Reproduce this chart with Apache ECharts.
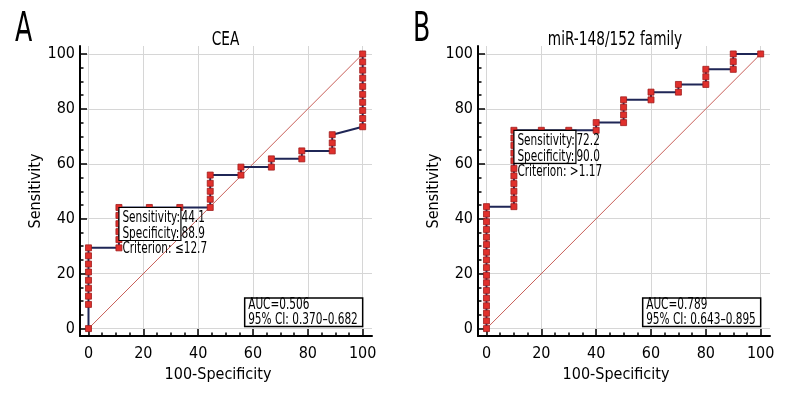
<!DOCTYPE html>
<html><head><meta charset="utf-8">
<script src="https://cdn.jsdelivr.net/npm/echarts@6/dist/echarts.min.js"></script>
<style>html,body{margin:0;padding:0;background:#fff}#c{width:800px;height:400px}</style>
</head><body><div id="c"></div>
<script>
const FONT = '"DejaVu Sans Condensed","DejaVu Sans",sans-serif';

// tick values
const majorTicks = [0, 20, 40, 60, 80, 100];
const minorTicks = [5, 10, 15, 25, 30, 35, 45, 50, 55, 65, 70, 75, 85, 90, 95];

// Panel A: CEA ROC points (100-Specificity, Sensitivity)
const ceaX = [0,0,0,0,0,0,0,0,0, 11.1,11.1,11.1,11.1,11.1,11.1, 22.2, 33.3,
  44.4,44.4,44.4,44.4,44.4, 55.6,55.6, 66.7,66.7, 77.8,77.8, 88.9,88.9,88.9,
  100,100,100,100,100,100,100,100,100,100];
const ceaY = [0,8.8,11.8,14.7,17.6,20.6,23.5,26.5,29.4, 29.4,32.4,35.3,38.2,41.2,44.1, 44.1, 44.1,
  44.1,47.1,50.0,52.9,55.9, 55.9,58.8, 58.8,61.8, 61.8,64.7, 64.7,67.6,70.6,
  73.5,76.5,79.4,82.4,85.3,88.2,91.2,94.1,97.1,100];

// Panel B: miR-148/152 family ROC points
const mirX = [0,0,0,0,0,0,0,0,0,0,0,0,0,0,0,0,0,
  10,10,10,10,10,10,10,10,10,10,10, 20, 30, 40,40,
  50,50,50,50, 60,60, 70,70, 80,80,80, 90,90,90, 100];
const mirY = [0,2.8,5.6,8.3,11.1,13.9,16.7,19.4,22.2,25.0,27.8,30.6,33.3,36.1,38.9,41.7,44.4,
  44.4,47.2,50.0,52.8,55.6,58.3,61.1,63.9,66.7,69.4,72.2, 72.2, 72.2, 72.2,75.0,
  75.0,77.8,80.6,83.3, 83.3,86.1, 86.1,88.9, 88.9,91.7,94.4, 94.4,97.2,100, 100];

// reference diagonal
const diagX = [0, 100];
const diagY = [0, 100];

// annotations
const titles = ['CEA', 'miR-148/152 family'];
const letters = ['A', 'B'];
const cutPoints = [[11.1, 44.1], [10, 72.2]];
const cutTexts = [['Sensitivity:', '44.1', 'Specificity:', '88.9', 'Criterion: \u226412.7'],
                  ['Sensitivity:', '72.2', 'Specificity:', '90.0', 'Criterion: >1.17']];
const aucTexts = [['AUC=0.506', '95% CI: 0.370\u20130.682'], ['AUC=0.789', '95% CI: 0.643\u20130.895']];

const XMIN = -3.1, XMAX = 103.4, YMIN = -2.7, YMAX = 102.9;
const grids = [
  { left: 80, width: 292, top: 46, height: 290 },
  { left: 478, width: 292, top: 46, height: 290 }
];

const axisBlack = { color: '#000', width: 2 };
const tickStyle = { color: '#000', width: 1.5 };
function xAxesFor(gi) {
  return [
    { type: 'value', gridIndex: gi, min: XMIN, max: XMAX, position: 'bottom',
      axisLine: { show: true, onZero: false, lineStyle: axisBlack },
      axisTick: { show: true, inside: true, length: 7, customValues: majorTicks, lineStyle: tickStyle },
      axisLabel: { customValues: majorTicks, color: '#000', fontFamily: FONT, fontSize: 16, margin: 10 },
      splitLine: { show: true, lineStyle: { color: '#d6d6d6', width: 1 } },
      name: '100-Specificity', nameLocation: 'middle', nameGap: 31,
      nameTextStyle: { color: '#000', fontFamily: FONT, fontSize: 16, padding: [0, 16, 0, 0] } },
    { type: 'value', gridIndex: gi, min: XMIN, max: XMAX, position: 'bottom',
      axisLine: { show: false, onZero: false },
      axisTick: { show: true, inside: true, length: 3.5, customValues: minorTicks, lineStyle: tickStyle },
      axisLabel: { show: false }, splitLine: { show: false } }
  ];
}
function yAxesFor(gi) {
  return [
    { type: 'value', gridIndex: gi, min: YMIN, max: YMAX, position: 'left',
      axisLine: { show: true, onZero: false, lineStyle: axisBlack },
      axisTick: { show: true, inside: true, length: 7, customValues: majorTicks, lineStyle: tickStyle },
      axisLabel: { customValues: majorTicks, color: '#000', fontFamily: FONT, fontSize: 16, margin: 5 },
      splitLine: { show: true, lineStyle: { color: '#d6d6d6', width: 1 } },
      name: 'Sensitivity', nameLocation: 'middle', nameGap: 25, nameRotate: 90,
      nameTextStyle: { color: '#000', fontFamily: FONT, fontSize: 16 } },
    { type: 'value', gridIndex: gi, min: YMIN, max: YMAX, position: 'left',
      axisLine: { show: false, onZero: false },
      axisTick: { show: true, inside: true, length: 3.5, customValues: minorTicks, lineStyle: tickStyle },
      axisLabel: { show: false }, splitLine: { show: false } }
  ];
}

function zip(a, b) { return a.map((v, i) => [v, b[i]]); }
const rocData = [zip(ceaX, ceaY), zip(mirX, mirY)];

const series = [];
for (let g = 0; g < 2; g++) {
  series.push({
    type: 'line', xAxisIndex: g * 2, yAxisIndex: g * 2, data: zip(diagX, diagY),
    symbol: 'none', silent: true, z: 2,
    lineStyle: { color: '#c9605a', width: 1 }
  });
  series.push({
    type: 'line', xAxisIndex: g * 2, yAxisIndex: g * 2, data: rocData[g],
    symbol: 'rect', symbolSize: 6, showAllSymbol: true, z: 3,
    lineStyle: { color: '#1f2656', width: 2 },
    itemStyle: { color: '#e0302c', borderColor: '#a01c1c', borderWidth: 0.8 }
  });
}

const chart = echarts.init(document.getElementById('c'), null, { renderer: 'canvas' });
chart.setOption({
  backgroundColor: '#fff',
  animation: false,
  grid: grids,
  xAxis: [...xAxesFor(0), ...xAxesFor(1)],
  yAxis: [...yAxesFor(0), ...yAxesFor(1)],
  series: series
});

// annotations positioned from data coordinates
const graphics = [];
const txt = (x, y, s, size, sx, align) => ({
  type: 'text', x: x, y: y, z: 100, scaleX: sx,
  style: { text: s, fill: '#000', font: size + 'px ' + FONT, textAlign: align || 'left', textVerticalAlign: 'middle' }
});
const AS = 0.78; // horizontal condensing for annotation text
for (let g = 0; g < 2; g++) {
  const conv = (pt) => chart.convertToPixel({ xAxisIndex: g * 2, yAxisIndex: g * 2 }, pt);
  const p0 = conv([0, 0]), p100 = conv([100, 100]);
  // letters and titles
  graphics.push(txt(grids[g].left - 65, 31, letters[g], 40, 0.7, 'left'));
  graphics.push(txt(g === 0 ? 225.5 : 615, 40, titles[g], 19, 0.8, 'center'));
  // cut-point box
  const c = conv(cutPoints[g]);
  graphics.push({ type: 'rect', z: 90, shape: { x: c[0], y: c[1], width: 62, height: 33 },
    style: { fill: '#fff', stroke: '#000', lineWidth: 1.2 } });
  const t = cutTexts[g];
  graphics.push(txt(c[0] + 3.5, c[1] + 11, t[0], 15, AS));
  graphics.push(txt(c[0] + 62.5, c[1] + 11, t[1], 15, AS));
  graphics.push(txt(c[0] + 3.5, c[1] + 26.5, t[2], 15, AS));
  graphics.push(txt(c[0] + 62.5, c[1] + 26.5, t[3], 15, AS));
  graphics.push(txt(c[0] + 3.5, c[1] + 42, t[4], 15, AS));
  // AUC box
  const bx = p100[0] - 118, by = p0[1] - 30.5;
  graphics.push({ type: 'rect', z: 90, shape: { x: bx, y: by, width: 118, height: 28.5 },
    style: { fill: '#fff', stroke: '#000', lineWidth: 1.5 } });
  graphics.push(txt(bx + 3.5, by + 7, aucTexts[g][0], 15, AS));
  graphics.push(txt(bx + 3.5, by + 22.5, aucTexts[g][1], 15, AS));
}
chart.setOption({ graphic: graphics });
</script>
</body></html>
